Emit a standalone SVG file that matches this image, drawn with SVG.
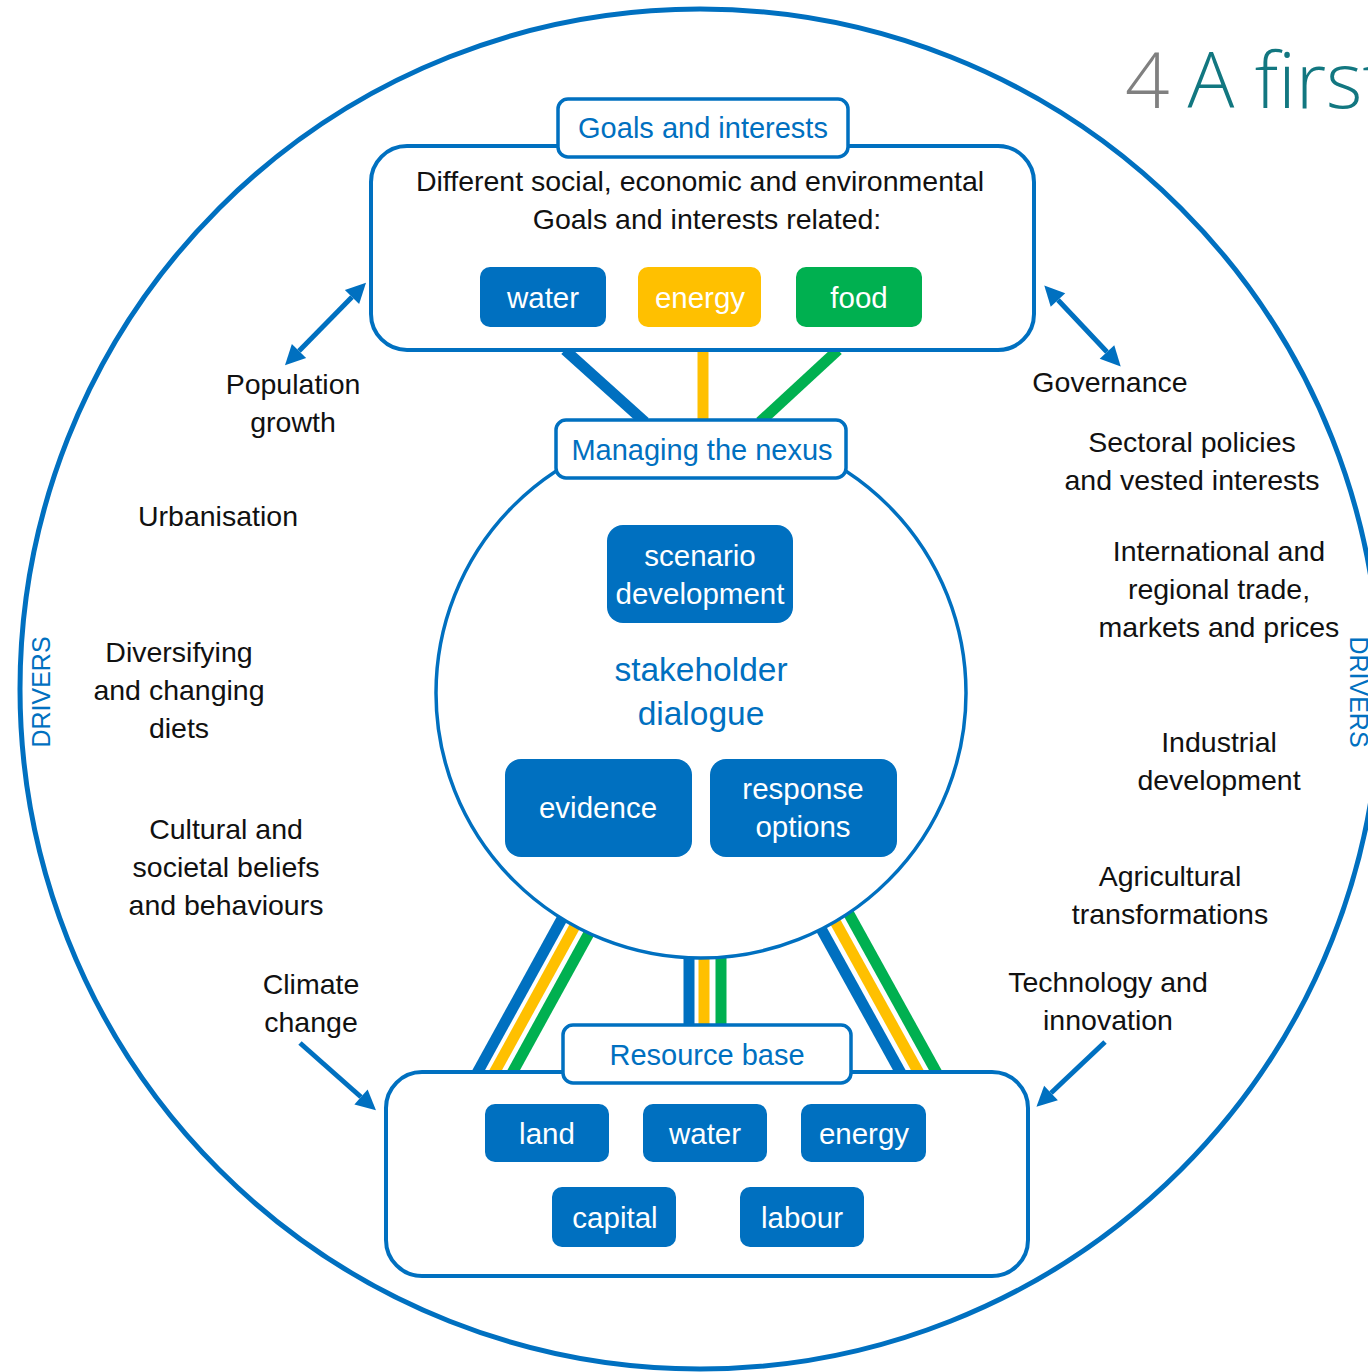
<svg xmlns="http://www.w3.org/2000/svg" width="1368" height="1372" viewBox="0 0 1368 1372">
<defs>
<style>
.t{font-family:"Liberation Sans",Arial,sans-serif;}
.blk{font-size:28.5px;fill:#111;text-anchor:middle;}
.lbl{font-size:29px;fill:#0070C0;text-anchor:middle;}
.wt{font-size:29.5px;fill:#fff;text-anchor:middle;}
.frame{fill:#fff;stroke:#0070C0;stroke-width:4;}
.tag{fill:#fff;stroke:#0070C0;stroke-width:3.5;}
.box{fill:#0070C0;}
.arr{stroke:#0070C0;stroke-width:5;fill:none;}
.b{stroke:#0070C0;}
.y{stroke:#FFC000;}
.g{stroke:#00B050;}
</style>
<marker id="ah" viewBox="0 0 10 10" refX="0" refY="5" markerWidth="22" markerHeight="20" markerUnits="userSpaceOnUse" orient="auto-start-reverse">
<path d="M0,0 L10,5 L0,10 z" fill="#0070C0"/>
</marker>
</defs>
<rect width="1368" height="1372" fill="#fff"/>

<g id="outer-circle">
<circle cx="700" cy="689" r="680" fill="none" stroke="#0070C0" stroke-width="5"/>
</g>

<g id="title">
<text x="1125" y="108" font-family="'Open Sans','Liberation Sans',sans-serif" font-weight="300" font-size="78"><tspan fill="#808080">4</tspan><tspan fill="#127780" dx="18">A first</tspan></text>
</g>

<g id="connectors" stroke-width="11" fill="none">
<line class="b" x1="565" y1="350" x2="645" y2="422"/>
<line class="y" x1="703" y1="350" x2="703" y2="422" stroke-width="11"/>
<line class="g" x1="838" y1="350" x2="760" y2="422"/>
<line class="b" x1="476" y1="1075" x2="569.5" y2="905"/>
<line class="y" x1="493" y1="1075" x2="586.5" y2="905"/>
<line class="g" x1="511" y1="1075" x2="604.5" y2="905"/>
<line class="b" x1="689" y1="940" x2="689" y2="1030"/>
<line class="y" x1="704" y1="940" x2="704" y2="1030"/>
<line class="g" x1="721" y1="940" x2="721" y2="1030"/>
<line class="b" x1="902" y1="1075" x2="808" y2="905"/>
<line class="y" x1="920" y1="1075" x2="826" y2="905"/>
<line class="g" x1="938" y1="1075" x2="844" y2="905"/>
<line class="arr" x1="299" y1="351" x2="352" y2="297" marker-start="url(#ah)" marker-end="url(#ah)"/>
<line class="arr" x1="1058" y1="300" x2="1107" y2="352" marker-start="url(#ah)" marker-end="url(#ah)"/>
<line class="arr" x1="300" y1="1043" x2="361" y2="1097" marker-end="url(#ah)"/>
<line class="arr" x1="1105" y1="1042" x2="1051" y2="1093" marker-end="url(#ah)"/>
</g>

<g id="goals" class="t">
<rect class="frame" x="371" y="146" width="663" height="204" rx="36"/>
<rect class="tag" x="558" y="99" width="290" height="58" rx="10"/>
<text class="lbl" x="703" y="138">Goals and interests</text>
<text class="blk" x="700" y="191">Different social, economic and environmental</text>
<text class="blk" x="707" y="229">Goals and interests related:</text>
</g>
<g id="goal-water" class="t"><rect x="480" y="267" width="126" height="60" rx="10" fill="#0070C0"/><text class="wt" x="543" y="308">water</text></g>
<g id="goal-energy" class="t"><rect x="638" y="267" width="123" height="60" rx="10" fill="#FFC000"/><text class="wt" x="700" y="308">energy</text></g>
<g id="goal-food" class="t"><rect x="796" y="267" width="126" height="60" rx="10" fill="#00B050"/><text class="wt" x="859" y="308">food</text></g>

<g id="nexus" class="t">
<circle cx="701" cy="693" r="265" fill="#fff" stroke="#0070C0" stroke-width="3.5"/>
<rect class="tag" x="556" y="420" width="290" height="58" rx="10"/>
<text class="lbl" x="702" y="460">Managing the nexus</text>
<text x="701" y="681" font-size="33.5" fill="#0070C0" text-anchor="middle">stakeholder</text>
<text x="701" y="725" font-size="33.5" fill="#0070C0" text-anchor="middle">dialogue</text>
</g>
<g id="scenario" class="t"><rect class="box" x="607" y="525" width="186" height="98" rx="16"/><text class="wt" x="700" y="566">scenario</text><text class="wt" x="700" y="604">development</text></g>
<g id="evidence" class="t"><rect class="box" x="505" y="759" width="187" height="98" rx="16"/><text class="wt" x="598" y="818">evidence</text></g>
<g id="response" class="t"><rect class="box" x="710" y="759" width="187" height="98" rx="16"/><text class="wt" x="803" y="799">response</text><text class="wt" x="803" y="837">options</text></g>

<g id="resource" class="t">
<rect class="frame" x="386" y="1072" width="642" height="204" rx="36"/>
<rect class="tag" x="563" y="1025" width="288" height="58" rx="10"/>
<text class="lbl" x="707" y="1065">Resource base</text>
</g>
<g id="res-land" class="t"><rect class="box" x="485" y="1104" width="124" height="58" rx="10"/><text class="wt" x="547" y="1144">land</text></g>
<g id="res-water" class="t"><rect class="box" x="643" y="1104" width="124" height="58" rx="10"/><text class="wt" x="705" y="1144">water</text></g>
<g id="res-energy" class="t"><rect class="box" x="801" y="1104" width="125" height="58" rx="10"/><text class="wt" x="864" y="1144">energy</text></g>
<g id="res-capital" class="t"><rect class="box" x="552" y="1187" width="124" height="60" rx="10"/><text class="wt" x="615" y="1228">capital</text></g>
<g id="res-labour" class="t"><rect class="box" x="740" y="1187" width="124" height="60" rx="10"/><text class="wt" x="802" y="1228">labour</text></g>

<g id="drivers-left" class="t">
<text class="blk" x="293" y="394">Population</text><text class="blk" x="293" y="432">growth</text>
<text class="blk" x="218" y="526">Urbanisation</text>
<text class="blk" x="179" y="662">Diversifying</text><text class="blk" x="179" y="700">and changing</text><text class="blk" x="179" y="738">diets</text>
<text class="blk" x="226" y="839">Cultural and</text><text class="blk" x="226" y="877">societal beliefs</text><text class="blk" x="226" y="915">and behaviours</text>
<text class="blk" x="311" y="994">Climate</text><text class="blk" x="311" y="1032">change</text>
<text transform="translate(50,692) rotate(-90)" font-size="25" fill="#0070C0" text-anchor="middle">DRIVERS</text>
</g>
<g id="drivers-right" class="t">
<text class="blk" x="1110" y="392">Governance</text>
<text class="blk" x="1192" y="452">Sectoral policies</text><text class="blk" x="1192" y="490">and vested interests</text>
<text class="blk" x="1219" y="561">International and</text><text class="blk" x="1219" y="599">regional trade,</text><text class="blk" x="1219" y="637">markets and prices</text>
<text class="blk" x="1219" y="752">Industrial</text><text class="blk" x="1219" y="790">development</text>
<text class="blk" x="1170" y="886">Agricultural</text><text class="blk" x="1170" y="924">transformations</text>
<text class="blk" x="1108" y="992">Technology and</text><text class="blk" x="1108" y="1030">innovation</text>
<text transform="translate(1350,692) rotate(90)" font-size="25" fill="#0070C0" text-anchor="middle">DRIVERS</text>
</g>
</svg>
